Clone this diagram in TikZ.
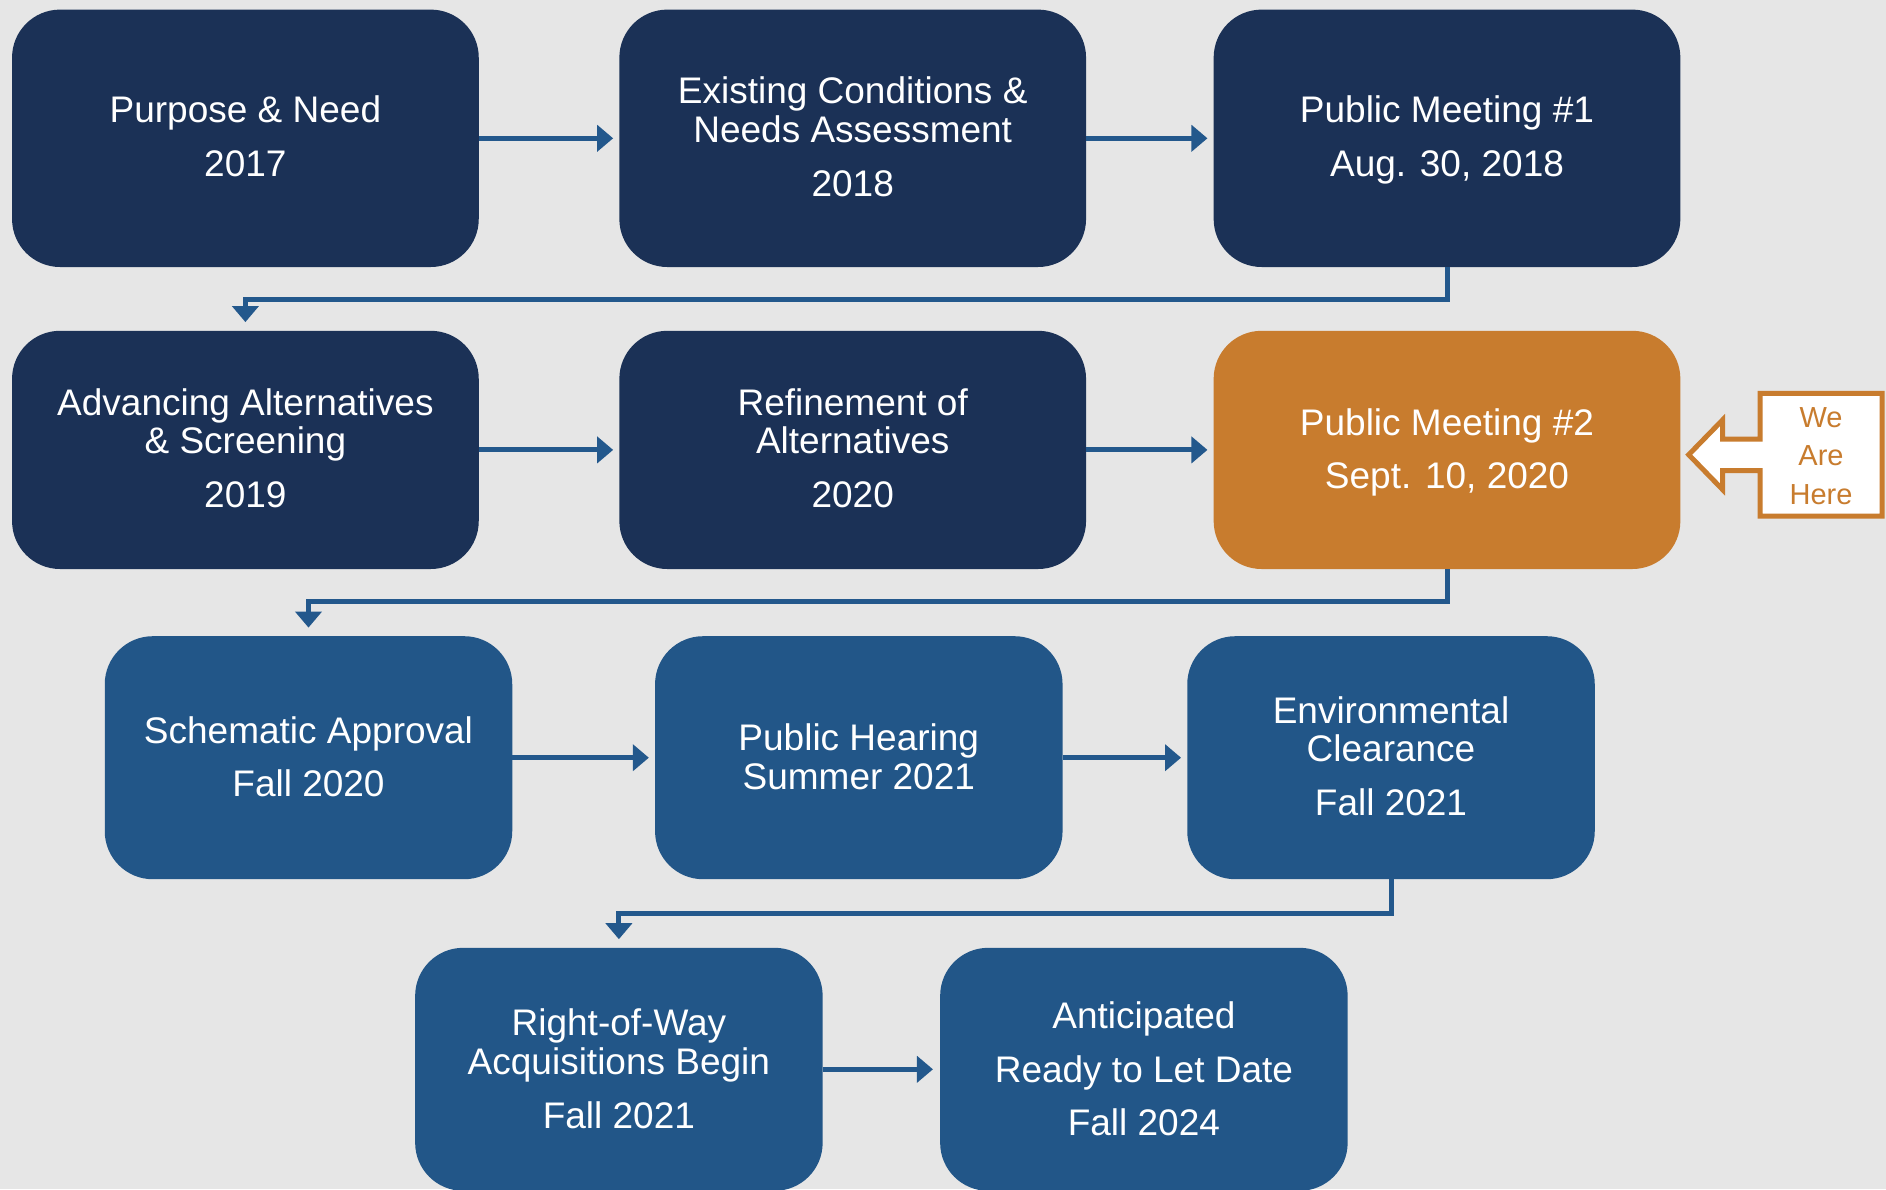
\documentclass[tikz,border=0pt]{standalone}
\usepackage{fontspec}
\setmainfont{Liberation Sans}
\usetikzlibrary{arrows.meta}
\definecolor{bgc}{RGB}{230,230,230}
\definecolor{navy}{RGB}{27,49,86}
\definecolor{midblue}{RGB}{34,86,136}
\definecolor{orangec}{RGB}{200,124,46}
\definecolor{connc}{RGB}{35,88,140}
\tikzset{
  boxbase/.style={rectangle, rounded corners=48pt, inner sep=0pt},
  rowa/.style={boxbase, fill=navy, minimum width=466.7pt, minimum height=257.4pt},
  rowb/.style={boxbase, fill=navy, minimum width=466.7pt, minimum height=238.2pt},
  rowc/.style={boxbase, fill=midblue, minimum width=407.5pt, minimum height=243pt},
  orangebox/.style={boxbase, fill=orangec, minimum width=466.7pt, minimum height=238.2pt},
  txt/.style={anchor=base, inner sep=0pt, text=white, font=\fontsize{37}{38.5}\selectfont},
  heretxt/.style={anchor=base, inner sep=0pt, text=orangec, font=\fontsize{29}{30}\selectfont},
  conn/.style={draw=connc, line width=5pt, -{Triangle[length=16pt,width=26pt]}},
}
\begin{document}
\begin{tikzpicture}[x=1pt,y=-1pt]
\useasboundingbox (0,0) rectangle (1886,1189);
\fill[bgc] (0,0) rectangle (1886,1189);
% row 1
\node[rowa] (b1) at (245.4,138.3) {};
\node[rowa] (b2) at (852.7,138.3) {};
\node[rowa] (b3) at (1447,138.3) {};
% row 2
\node[rowb] (b4) at (245.4,449.9) {};
\node[rowb] (b5) at (852.7,449.9) {};
\node[orangebox] (b6) at (1447,449.9) {};
% row 3
\node[rowc] (b7) at (308.5,757.7) {};
\node[rowc] (b8) at (858.8,757.7) {};
\node[rowc] (b9) at (1391,757.7) {};
% row 4
\node[rowc] (b10) at (618.9,1069.3) {};
\node[rowc] (b11) at (1143.9,1069.3) {};
% texts
\node[txt] (t1a) at (245.4,122.8) {Purpose \& Need};
\node[txt] (t1b) at (245.4,176.9) {2017};
\node[txt] (t2a) at (852.7,103.3) {Existing Conditions \&};
\node[txt] (t2b) at (852.7,142) {Needs Assessment};
\node[txt] (t2c) at (852.7,196.1) {2018};
\node[txt] (t3a) at (1447,122.8) {Public Meeting \#1};
\node[txt] (t3b) at (1447,176.9) {Aug. 30, 2018};
\node[txt] (t4a) at (245.4,415) {Advancing Alternatives};
\node[txt] (t4b) at (245.4,453.5) {\& Screening};
\node[txt] (t4c) at (245.4,507.7) {2019};
\node[txt] (t5a) at (852.7,415) {Refinement of};
\node[txt] (t5b) at (852.7,453.5) {Alternatives};
\node[txt] (t5c) at (852.7,507.7) {2020};
\node[txt] (t6a) at (1447,435.5) {Public Meeting \#2};
\node[txt] (t6b) at (1447,488.4) {Sept. 10, 2020};
\node[txt] (t7a) at (308.5,743.4) {Schematic Approval};
\node[txt] (t7b) at (308.5,796.3) {Fall 2020};
\node[txt] (t8a) at (858.8,750.6) {Public Hearing};
\node[txt] (t8b) at (858.8,789.1) {Summer 2021};
\node[txt] (t9a) at (1391,723) {Environmental};
\node[txt] (t9b) at (1391,761.4) {Clearance};
\node[txt] (t9c) at (1391,815.6) {Fall 2021};
\node[txt] (t10a) at (618.9,1035.7) {Right-of-Way};
\node[txt] (t10b) at (618.9,1074.2) {Acquisitions Begin};
\node[txt] (t10c) at (618.9,1128.3) {Fall 2021};
\node[txt] (t11a) at (1143.9,1028.5) {Anticipated};
\node[txt] (t11b) at (1143.9,1082.6) {Ready to Let Date};
\node[txt] (t11c) at (1143.9,1135.5) {Fall 2024};
% connectors
\draw[conn, shorten >=6pt] (b1.east) -- (b2.west);
\draw[conn, shorten >=6pt] (b2.east) -- (b3.west);
\draw[conn, shorten >=8.5pt] (b3.south) -- ++(0,32) -| (b4.north);
\draw[conn, shorten >=6pt] (b4.east) -- (b5.west);
\draw[conn, shorten >=6pt] (b5.east) -- (b6.west);
\draw[conn, shorten >=8.4pt] (b6.south) -- ++(0,32.4) -| (b7.north);
\draw[conn, shorten >=6pt] (b7.east) -- (b8.west);
\draw[conn, shorten >=6pt] (b8.east) -- (b9.west);
\draw[conn, shorten >=8.4pt] (b9.south) -- ++(0,33.7) -| (b10.north);
\draw[conn, shorten >=7pt] (b10.east) -- (b11.west);
% We Are Here marker
\draw[orangec, fill=white, line width=5pt, line join=miter]
  (1760,393.3) -- (1882,393.3) -- (1882,516) -- (1760,516) -- (1760,470.5)
  -- (1722.5,470.5) -- (1722.5,489.5) -- (1688.7,454.7) -- (1722.5,420)
  -- (1722.5,439) -- (1760,439) -- cycle;
\node[heretxt] (h1) at (1821,427) {We};
\node[heretxt] (h2) at (1821,465.5) {Are};
\node[heretxt] (h3) at (1821,504) {Here};
\end{tikzpicture}
\end{document}
